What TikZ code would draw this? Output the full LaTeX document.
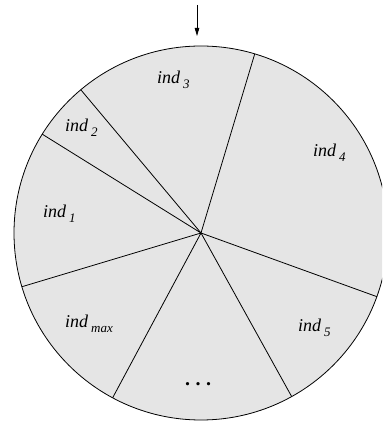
\documentclass[tikz,border=0pt]{standalone}
\usepackage{fontspec}
\setmainfont{Liberation Serif}
\usetikzlibrary{arrows.meta}
\newcommand{\indlab}[1]{ind\hspace{3pt}\raisebox{-4.5pt}{\fontsize{13}{13}\selectfont #1}}
\tikzset{
  x=1pt, y=1pt,
  lab/.style={anchor=base west, inner sep=0pt, font=\itshape\fontsize{18}{18}\selectfont},
  ray/.style={draw=black, line width=0.8pt},
}
\begin{document}
\begin{tikzpicture}
\useasboundingbox (0,0) rectangle (382,422);
\clip (0,0) rectangle (382,422);
\coordinate (c) at (201,189);
\fill[black!10] (c) circle[radius=187];
\draw[line width=0.8pt] (c) circle[radius=187];
\foreach \a/\n in {73.3/a, 130/b, 148.1/c, 196.7/d, 241.8/e, 299/f, 340.1/g}{
  \coordinate (p\n) at ([shift={(\a:187)}]c);
  \draw[ray] (c) -- (p\n);
}
\coordinate (top) at (197,386);
\coordinate (start) at (197,417);
\draw[line width=0.8pt, -{Triangle[length=8pt,width=4.5pt]}] (start) -- (top);
\node[lab] (i3) at (157,338) {\indlab{3}};
\node[lab] (i2) at (65,290) {\indlab{2}};
\node[lab] (i4) at (313,265) {\indlab{4}};
\node[lab] (i1) at (43,204) {\indlab{1}};
\node[lab] (imax) at (65,94) {\indlab{max}};
\node[lab] (i5) at (298,90) {\indlab{5}};
\node[inner sep=0pt, font=\bfseries\fontsize{20}{20}\selectfont] (dots) at (198,38) {.\hspace{5.5pt}.\hspace{5.5pt}.};
\end{tikzpicture}
\end{document}
